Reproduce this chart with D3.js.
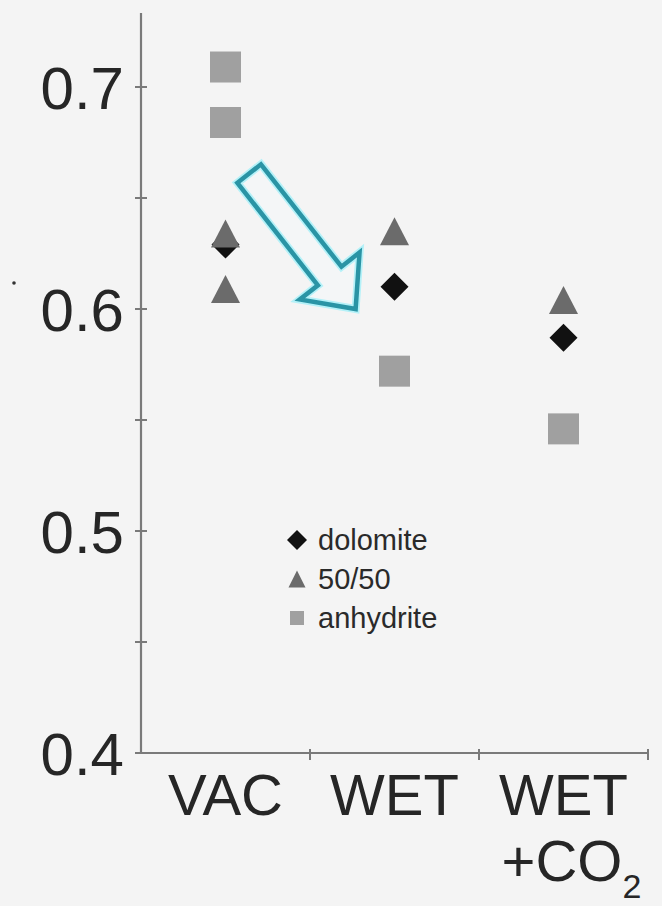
<!DOCTYPE html>
<html>
<head>
<meta charset="utf-8">
<script src="https://cdn.jsdelivr.net/npm/d3@7"></script>
<style>
  html, body { margin: 0; padding: 0; background: #f4f4f4; }
  svg { display: block; }
  text { font-family: "Liberation Sans", Arial, sans-serif; fill: #262626; }
</style>
</head>
<body>
<svg id="chart" width="662" height="906"></svg>
<script>
// Treatment conditions along the x axis
const categories = ["VAC", "WET", "WET+CO2"];

// Measured values per rock type (one entry per sample)
const dolomite  = [["VAC", 0.629], ["WET", 0.610], ["WET+CO2", 0.587]];
const fiftyFifty = [["VAC", 0.634], ["VAC", 0.609], ["WET", 0.635], ["WET+CO2", 0.604]];
const anhydrite = [["VAC", 0.709], ["VAC", 0.684], ["WET", 0.572], ["WET+CO2", 0.546]];

const seriesNames = ["dolomite", "50/50", "anhydrite"];

// Y axis ticks
const majorTicks = [0.4, 0.5, 0.6, 0.7];
const minorTicks = [0.45, 0.55, 0.65];
const tickLabels = ["0.4", "0.5", "0.6", "0.7"];

// Trend arrow, in (category index, value) units
const arrowFrom = [0.14, 0.661];
const arrowTo   = [0.77, 0.600];

const svg = d3.select("#chart");
const W = 662, H = 906;
svg.append("rect").attr("width", W).attr("height", H).attr("fill", "#f4f4f4");

const left = 141, right = 648;
const y = d3.scaleLinear().domain([0.4, 0.7]).range([753, 87]);
const x = d3.scaleBand().domain(categories).range([left, right]).padding(0);
const xi = d3.scaleLinear().domain([0, 1]).range([x("VAC") + x.bandwidth() / 2, x("WET") + x.bandwidth() / 2]);

const axisColor = "#7a7a7a";
const yTop = y(0.7333);

// Y axis line
svg.append("line").attr("x1", left).attr("x2", left)
  .attr("y1", yTop).attr("y2", y(0.4))
  .attr("stroke", axisColor).attr("stroke-width", 2.2);

// Y ticks crossing the axis
svg.selectAll("line.ytick").data(majorTicks.concat(minorTicks)).join("line")
  .attr("class", "ytick")
  .attr("x1", left - 6).attr("x2", left + 6)
  .attr("y1", d => y(d)).attr("y2", d => y(d))
  .attr("stroke", axisColor).attr("stroke-width", 2);

svg.selectAll("text.ylab").data(majorTicks).join("text")
  .attr("class", "ylab")
  .attr("x", 124).attr("y", d => y(d) + 22)
  .attr("text-anchor", "end")
  .attr("font-size", 60)
  .text((d, i) => tickLabels[i]);

// X axis line with tick marks at band edges
svg.append("line").attr("x1", left).attr("x2", right)
  .attr("y1", y(0.4)).attr("y2", y(0.4))
  .attr("stroke", axisColor).attr("stroke-width", 2.2);
const edges = categories.map(c => x(c) + x.bandwidth());
svg.selectAll("line.xtick").data(edges).join("line")
  .attr("class", "xtick")
  .attr("x1", d => d).attr("x2", d => d)
  .attr("y1", y(0.4) - 4).attr("y2", y(0.4) + 7)
  .attr("stroke", axisColor).attr("stroke-width", 2);

// X labels
const xLab = svg.append("g").attr("font-size", 58);
categories.forEach(c => {
  const cx = x(c) + x.bandwidth() / 2;
  if (c === "WET+CO2") {
    xLab.append("text").attr("x", cx).attr("y", 815).attr("text-anchor", "middle").text("WET");
    const t = xLab.append("text").attr("x", cx + 8).attr("y", 881).attr("text-anchor", "middle");
    t.append("tspan").text("+CO");
    t.append("tspan").attr("font-size", 34).attr("dy", 17).text("2");
  } else {
    xLab.append("text").attr("x", cx).attr("y", 815).attr("text-anchor", "middle").text(c);
  }
});

// Marker shapes
const diamondPath = r => `M0,${-r}L${r},0L0,${r}L${-r},0Z`;
const trianglePath = (w, h) => `M0,${-h / 2}L${w / 2},${h / 2}L${-w / 2},${h / 2}Z`;
const squarePath = s => `M${-s / 2},${-s / 2}h${s}v${s}h${-s}Z`;

const styles = {
  "dolomite":  { data: dolomite,  path: diamondPath(14), legend: diamondPath(10),     fill: "#111111" },
  "50/50":     { data: fiftyFifty, path: trianglePath(29, 28), legend: trianglePath(17, 17), fill: "#6b6b6b" },
  "anhydrite": { data: anhydrite, path: squarePath(31), legend: squarePath(14),       fill: "#a0a0a0" }
};

seriesNames.forEach(name => {
  const s = styles[name];
  svg.append("g").selectAll("path").data(s.data).join("path")
    .attr("transform", d => `translate(${x(d[0]) + x.bandwidth() / 2},${y(d[1])})`)
    .attr("d", s.path)
    .attr("fill", s.fill);
});

// Trend arrow
const ax0 = xi(arrowFrom[0]), ay0 = y(arrowFrom[1]);
const ax1 = xi(arrowTo[0]),   ay1 = y(arrowTo[1]);
const L = Math.hypot(ax1 - ax0, ay1 - ay0);
const ang = Math.atan2(ay1 - ay0, ax1 - ax0) * 180 / Math.PI;
const sw = 30, hw = 76, hl = 42;
const arrowPts = [[0, -sw / 2], [L - hl, -sw / 2], [L - hl, -hw / 2], [L, 0],
                  [L - hl, hw / 2], [L - hl, sw / 2], [0, sw / 2]];
const arrowG = svg.append("g").attr("transform", `translate(${ax0},${ay0}) rotate(${ang})`);
const arrowD = "M" + arrowPts.map(p => p.join(",")).join("L") + "Z";
arrowG.append("path").attr("d", arrowD)
  .attr("fill", "#f4f6f7").attr("stroke", "#b4f1f8").attr("stroke-width", 8)
  .attr("stroke-linejoin", "miter");
arrowG.append("path").attr("d", arrowD)
  .attr("fill", "none").attr("stroke", "#2a94a5").attr("stroke-width", 4.5)
  .attr("stroke-linejoin", "miter");

// Legend
const legend = svg.append("g").attr("transform", "translate(297,540)");
seriesNames.forEach((name, i) => {
  const row = legend.append("g").attr("transform", `translate(0,${i * 39})`);
  row.append("path").attr("d", styles[name].legend).attr("fill", styles[name].fill);
  row.append("text").attr("x", 21).attr("y", 10).attr("font-size", 29)
    .style("fill", "#2a2a2a").text(name);
});

// Remnant of the axis title at the far left
svg.append("circle").attr("cx", 14).attr("cy", 283).attr("r", 1.8).attr("fill", "#333");
</script>
</body>
</html>
